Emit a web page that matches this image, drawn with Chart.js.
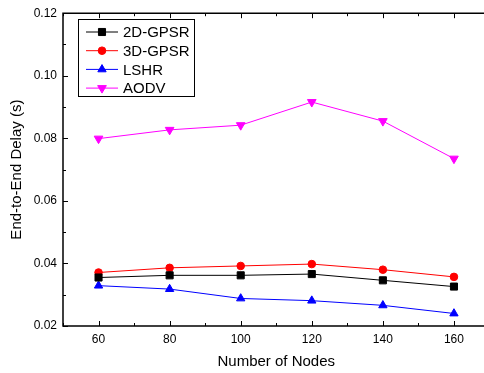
<!DOCTYPE html>
<html>
<head>
<meta charset="utf-8">
<script src="https://cdn.jsdelivr.net/npm/chart.js@4"></script>
<style>
    html, body { margin: 0; background: #fff; overflow: hidden; }
</style>
</head>
<body>
<canvas id="chartDelay" width="484" height="373"></canvas>
<script>
const nodes = [60, 80, 100, 120, 140, 160];
const gpsr2d = [0.0355, 0.0362, 0.0362, 0.0366, 0.0346, 0.0326];
const gpsr3d = [0.0371, 0.0386, 0.0392, 0.0398, 0.0380, 0.0357];
const lshr = [0.0329, 0.0318, 0.0288, 0.0281, 0.0266, 0.0240];
const aodv = [0.0799, 0.0827, 0.0842, 0.0916, 0.0855, 0.0735];

const xTicks = [60, 80, 100, 120, 140, 160];
const yTicks = [0.02, 0.04, 0.06, 0.08, 0.10, 0.12];

const fontFamily = "'Liberation Sans', Arial, sans-serif";
// the plot box runs a little past the right edge of the picture
const plotRight = 489.5;

function points(values) {
    return nodes.map((n, i) => ({x: n, y: values[i]}));
}

function series(label, values, color, style, radius, rotation) {
    return {
        label: label,
        data: points(values),
        borderColor: color,
        backgroundColor: color,
        borderWidth: 1,
        pointStyle: style,
        pointRadius: radius,
        pointRotation: rotation || 0,
        pointBorderWidth: 1,
        fill: false,
        tension: 0
    };
}

const framePlugin = {
    id: "frame",
    afterLayout(chart) {
        const xs = chart.scales.x;
        xs.right = plotRight;
        xs.width = plotRight - xs.left;
        chart.chartArea.right = plotRight;
        chart.chartArea.width = plotRight - chart.chartArea.left;
        xs.configure();
    },
    afterDraw(chart) {
        const ctx = chart.ctx;
        const area = chart.chartArea;
        const xs = chart.scales.x;
        const ys = chart.scales.y;

        ctx.save();
        ctx.strokeStyle = "#000";
        ctx.lineWidth = 1.5;
        ctx.beginPath();
        ctx.moveTo(area.right, area.top);
        ctx.lineTo(area.left, area.top);
        ctx.lineTo(area.left, area.bottom);
        ctx.lineTo(area.right, area.bottom);
        ctx.stroke();

        // inward ticks, minor ones shorter
        ctx.lineWidth = 1;
        ctx.beginPath();
        for (let v = 50; v <= 170; v += 10) {
            let px = Math.round(xs.getPixelForValue(v)) + 0.5;
            let len = v % 20 === 0 ? 5 : 3;
            ctx.moveTo(px, area.bottom);
            ctx.lineTo(px, area.bottom - len);
            ctx.moveTo(px, area.top);
            ctx.lineTo(px, area.top + len);
        }
        for (let k = 2; k <= 12; k++) {
            let py = Math.round(ys.getPixelForValue(k / 100)) + 0.5;
            let len = k % 2 === 0 ? 5 : 3;
            ctx.moveTo(area.left, py);
            ctx.lineTo(area.left + len, py);
        }
        ctx.stroke();

        // legend box
        let bx = 78, by = 19, bw = 116, bh = 77;
        ctx.fillStyle = "#fff";
        ctx.fillRect(bx, by, bw, bh);
        ctx.strokeStyle = "#000";
        ctx.lineWidth = 1;
        ctx.strokeRect(bx + 0.5, by + 0.5, bw, bh);

        ctx.font = "15px " + fontFamily;
        ctx.textBaseline = "middle";
        chart.data.datasets.forEach(function (ds, i) {
            let y = 32 + i * 18.7;
            ctx.strokeStyle = ds.borderColor;
            ctx.fillStyle = ds.backgroundColor;
            ctx.lineWidth = 1;
            ctx.beginPath();
            ctx.moveTo(86, y);
            ctx.lineTo(118, y);
            ctx.stroke();
            Chart.helpers.drawPoint(ctx, {
                pointStyle: ds.pointStyle,
                rotation: ds.pointRotation,
                radius: ds.pointRadius,
                borderWidth: 1
            }, 102, y);
            ctx.fillStyle = "#000";
            ctx.fillText(ds.label, 123, y + 1);
        });
        ctx.restore();
    }
};

new Chart("chartDelay", {
    type: "line",
    data: {
        datasets: [
            series("2D-GPSR", gpsr2d, "#000000", "rect", 5),
            series("3D-GPSR", gpsr3d, "#ff0000", "circle", 3.8),
            series("LSHR", lshr, "#0000ff", "triangle", 4.8),
            series("AODV", aodv, "#ff00ff", "triangle", 5, 180)
        ]
    },
    options: {
        responsive: false,
        animation: false,
        devicePixelRatio: 1,
        layout: {
            padding: {top: 7, right: 0, left: 0, bottom: 0}
        },
        plugins: {
            legend: {display: false},
            tooltip: {enabled: false}
        },
        scales: {
            x: {
                type: "linear",
                min: 50,
                max: 170,
                afterBuildTicks: function (scale) {
                    scale.ticks = xTicks.map(v => ({value: v}));
                },
                afterFit: function (scale) {
                    scale.height = 47;
                },
                grid: {display: false, drawTicks: false},
                border: {display: false},
                ticks: {
                    padding: 6,
                    color: "#000",
                    font: {family: fontFamily, size: 12},
                    maxRotation: 0,
                    callback: v => String(v)
                },
                title: {
                    display: true,
                    text: "Number of Nodes",
                    color: "#000",
                    font: {family: fontFamily, size: 15},
                    padding: {top: 0, bottom: 2}
                }
            },
            y: {
                min: 0.02,
                max: 0.12,
                afterBuildTicks: function (scale) {
                    scale.ticks = yTicks.map(v => ({value: v}));
                },
                afterFit: function (scale) {
                    scale.width = 63;
                },
                grid: {display: false, drawTicks: false},
                border: {display: false},
                ticks: {
                    padding: 6,
                    color: "#000",
                    font: {family: fontFamily, size: 12},
                    callback: v => v.toFixed(2)
                },
                title: {
                    display: true,
                    text: "End-to-End Delay (s)",
                    color: "#000",
                    font: {family: fontFamily, size: 15},
                    padding: {top: 8, bottom: 0}
                }
            }
        }
    },
    plugins: [framePlugin]
});
</script>
</body>
</html>
